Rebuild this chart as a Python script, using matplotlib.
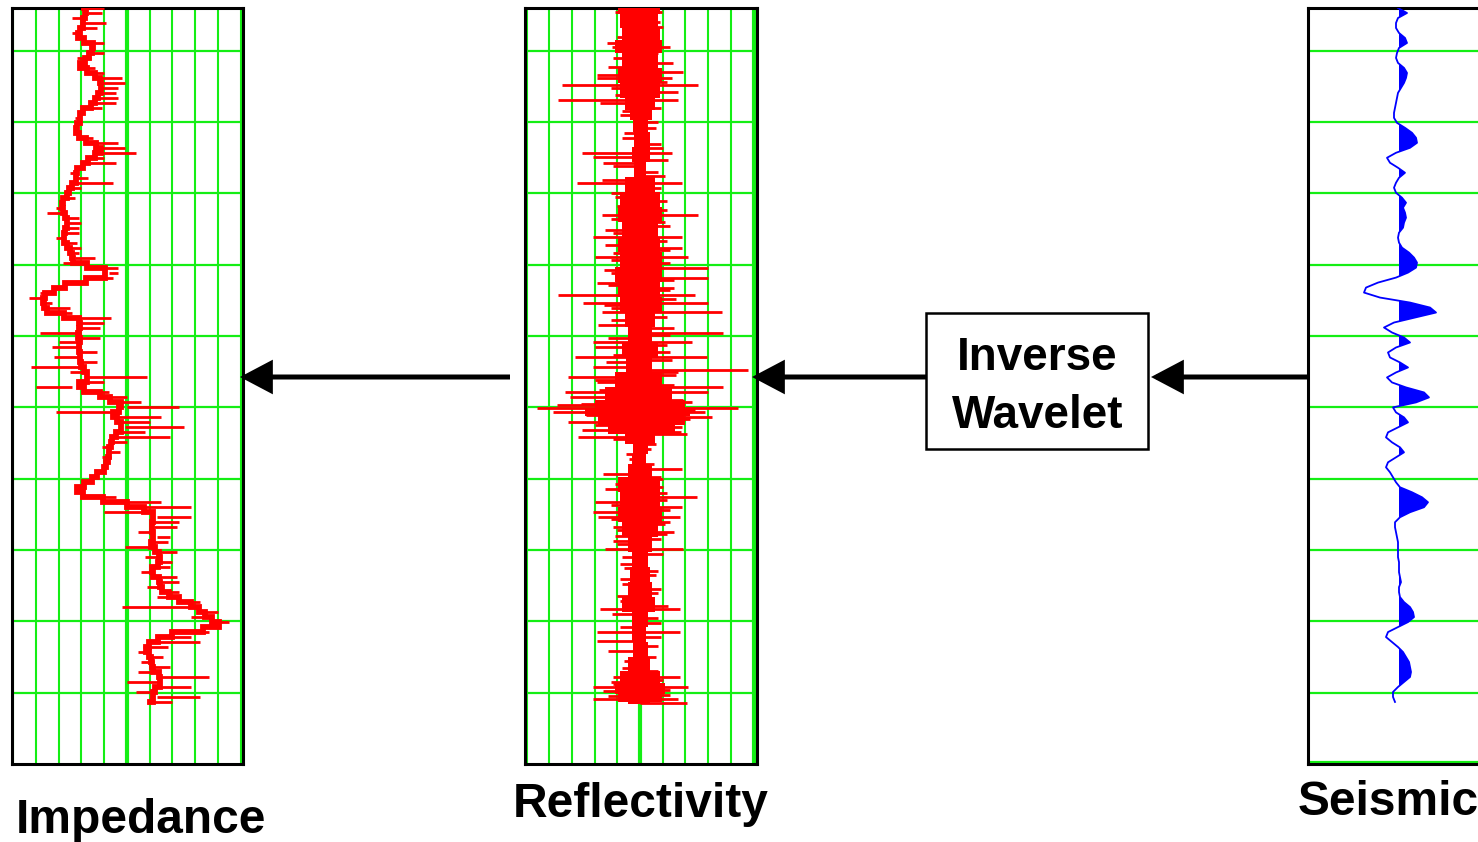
import numpy as np
import matplotlib
matplotlib.use("Agg")
import matplotlib.pyplot as plt
from matplotlib.patches import FancyArrowPatch, Rectangle, ArrowStyle

plt.rcParams['font.family'] = ['Liberation Sans', 'DejaVu Sans']

# ---------------- data ----------------
# two-way time samples (ms), 7 ms interval
time_ms = np.arange(140) * 7

# acoustic impedance log: blocky trend (grid units 0..10)
impedance = [
    3.1, 3.3, 3.0, 3.1, 3.0, 2.9, 2.8, 3.4, 3.6, 3.3,
    3.4, 2.9, 3.0, 3.5, 3.7, 3.9, 3.8, 3.9, 3.6, 3.6,
    3.2, 2.9, 3.0, 2.9, 2.7, 2.8, 3.0, 3.4, 3.9, 3.8,
    3.4, 3.2, 2.9, 2.7, 2.8, 2.7, 2.5, 2.4, 2.3, 2.1,
    2.2, 2.2, 2.4, 2.3, 2.4, 2.2, 2.3, 2.2, 2.5, 2.5,
    2.7, 2.6, 3.9, 4.2, 3.9, 2.5, 2.1, 1.5, 1.3, 1.3,
    1.4, 1.6, 2.9, 2.9, 3.0, 2.8, 2.9, 3.0, 2.8, 3.0,
    2.9, 3.0, 3.0, 3.2, 3.3, 3.2, 2.6, 3.6, 4.0, 4.5,
    5.0, 4.3, 4.5, 4.6, 4.9, 4.6, 4.4, 4.3, 4.3, 4.1,
    4.3, 4.0, 4.2, 3.8, 3.6, 3.3, 2.9, 2.7, 3.4, 4.5,
    5.5, 6.0, 6.3, 6.0, 6.2, 6.0, 6.3, 6.0, 6.1, 6.4,
    6.4, 6.5, 6.2, 6.0, 6.3, 6.5, 6.4, 6.7, 7.0, 7.6,
    8.0, 8.3, 8.6, 8.9, 9.2, 7.5, 6.5, 6.2, 5.7, 6.0,
    5.9, 6.2, 6.0, 6.3, 6.5, 6.4, 6.5, 6.0, 6.3, 6.0,
]
# impedance spikes: sample index and spike value
imp_spike_idx = [1, 3, 5, 7, 13, 15, 17, 19, 28, 29, 30, 35, 41, 44, 48, 50, 53, 57,
                 58, 60, 62, 64, 65, 68, 69, 70, 72, 74, 76, 79, 80, 81, 83, 84, 86,
                 100, 101, 102, 104, 106, 108, 111, 115, 119, 120, 127, 133, 134, 135,
                 136, 137, 138,
                 0, 2, 4, 9, 10, 12, 14, 16, 18, 20, 22, 26, 27, 31, 33, 34, 36, 38,
                 40, 42, 43, 45, 46, 47, 49, 51, 52, 54, 55, 59, 61, 63, 66, 67, 71,
                 73, 75, 77, 78, 82, 85, 87, 88, 89, 90, 98, 99, 103, 105, 107, 109,
                 110, 112, 113, 114, 116, 117, 118, 121, 122, 123, 125, 126, 128, 129,
                 130, 131, 132, 139]
imp_spike_val = [3.9, 4.1, 2.6, 4.0, 4.0, 4.9, 4.5, 4.5, 4.9, 5.4, 4.0, 4.4, 1.5, 2.9,
                 3.0, 3.6, 4.6, 1.2, 0.7, 2.5, 4.3, 3.8, 1.2, 1.7, 3.7, 1.8, 0.8, 5.9,
                 1.0, 5.6, 7.3, 1.9, 6.0, 7.5, 6.9, 7.8, 4.0, 7.8, 7.2, 6.9, 4.9, 7.0,
                 7.3, 8.2, 4.8, 8.2, 5.5, 8.6, 5.0, 7.8, 5.4, 8.2,
                 4.0, 2.6, 3.7, 4.0, 2.8, 3.6, 4.8, 4.6, 4.6, 3.9, 2.7, 3.5, 4.6, 4.5,
                 2.5, 3.3, 3.0, 2.7, 1.9, 2.9, 3.0, 2.9, 1.9, 2.8, 2.9, 2.2, 4.6, 4.4,
                 2.8, 1.7, 2.6, 4.0, 3.8, 2.0, 3.7, 2.5, 4.0, 4.2, 5.0, 6.5, 5.8, 5.0,
                 3.9, 4.7, 3.9, 4.5, 6.5, 7.3, 5.5, 6.8, 7.2, 5.8, 6.9, 5.6, 7.2, 5.9,
                 7.3, 6.3, 9.0, 7.8, 9.5, 8.6, 7.8, 6.8, 5.5, 6.6, 5.6, 6.9, 7.0]

# reflectivity: dense core envelope (time, left, right)
core_t = [0, 17, 38, 52, 73, 94, 115, 136, 150, 164, 185, 206, 227, 248, 269,
          290, 311, 332, 353, 374, 395, 416, 437, 458, 479, 500, 521, 542, 556,
          566, 577, 591, 605, 619, 633, 647, 668, 689, 710, 731, 752, 773, 794,
          815, 836, 857, 878, 899, 920, 938, 955, 969, 976]
core_left = [-0.97, -0.88, -0.79, -1.10, -0.79, -0.97, -0.88, -0.66, -0.44, -0.31,
             -0.26, -0.35, -0.26, -0.66, -0.88, -0.97, -0.79, -0.97, -0.88, -1.10,
             -0.97, -0.88, -0.66, -0.53, -0.79, -0.62, -1.10, -1.54, -1.98, -2.42,
             -1.85, -1.41, -0.66, -0.31, -0.35, -0.53, -0.97, -0.88, -0.97, -0.79,
             -0.53, -0.35, -0.44, -0.53, -0.79, -0.35, -0.35, -0.31, -0.53, -0.88,
             -1.10, -0.97, -0.53]
core_right = [0.88, 0.79, 0.88, 0.97, 0.79, 0.97, 0.88, 0.66, 0.53, 0.35,
              0.44, 0.44, 0.26, 0.66, 0.88, 0.97, 0.79, 0.88, 0.97, 0.97,
              0.88, 0.97, 0.66, 0.53, 0.79, 0.53, 0.97, 1.41, 1.98, 2.20,
              1.98, 1.54, 0.66, 0.35, 0.26, 0.53, 0.88, 0.88, 0.97, 0.79,
              0.53, 0.35, 0.44, 0.53, 0.66, 0.35, 0.26, 0.35, 0.44, 0.88,
              1.10, 0.97, 0.44]

# reflectivity: individual reflection spikes (time, coefficient)
spike_t = [6, 6, 20, 34, 34, 49, 55, 55, 63, 77, 83, 90, 94, 98, 98, 108, 108, 118,
           129, 129, 133, 150, 160, 175, 190, 203, 203, 209, 213, 217, 230, 241, 245,
           245, 260, 270, 278, 290, 290, 300, 311, 321, 321, 332, 336, 343, 349, 349,
           357, 364, 371, 378, 385, 392, 402, 402, 413, 413, 420, 426, 426, 433, 444,
           449, 455, 462, 468, 468, 476, 483, 490, 490, 497, 503, 507, 511, 518, 525,
           528, 532, 539, 539, 545, 552, 557, 561, 561, 567, 567, 573, 580, 587, 591,
           598, 602, 612, 626, 640, 647, 654, 661, 668, 675, 680, 686, 693, 700, 707,
           713, 714, 721, 728, 735, 741, 748, 759, 759, 766, 780, 790, 800, 815, 825,
           839, 843, 843, 850, 862, 875, 875, 888, 895, 902, 910, 925, 938, 938, 945,
           952, 952, 958, 963, 969, 969, 974,
           13, 27, 41, 70, 104, 112, 122, 140, 145, 168, 182, 196, 222, 236, 252, 265,
           283, 296, 305, 316, 327, 340, 353, 368, 381, 388, 396, 408, 416, 438, 459,
           472, 486, 494, 515, 521, 535, 549, 555, 563, 570, 576, 584, 594, 605, 619,
           633, 658, 672, 690, 697, 704, 717, 724, 732, 738, 745, 752, 770, 785, 795,
           808, 820, 832, 855, 868, 882, 915, 930, 942, 948, 956, 965]
spike_r = [-1.10, 0.97, 0.88, -0.79, 0.84, -1.45, 1.32, -1.23, 0.79, 1.45, -1.41, 1.89,
           -1.89, -1.89, 1.41, -3.44, 2.56, 1.67, -3.61, 1.67, -1.76, -0.90, 0.80, -0.70,
           0.90, -2.56, 1.41, -2.07, 1.23, -1.63, 0.80, -1.67, -2.78, 1.85, -1.30, 1.20,
           -1.00, -1.67, 2.56, 1.10, -1.54, -2.07, 1.85, -1.54, 1.85, -1.20, -1.98, 2.11,
           1.30, 3.00, -1.30, 3.00, -1.89, 1.50, -3.61, 2.42, -2.51, 3.00, -1.30, 3.61,
           -1.67, 1.20, -1.85, 1.50, 3.66, -1.40, -2.07, 2.29, -1.98, 1.30, -2.86, 2.95,
           -1.50, -2.07, 4.76, 1.67, -3.17, -1.89, 1.50, 3.66, -3.30, 3.00, -3.08, 2.29,
           -3.66, -4.54, 4.32, -3.83, 2.86, 3.17, -3.17, 1.85, -2.56, 2.07, -2.73, 0.70,
           -0.60, 0.60, 1.85, -1.63, 1.00, -1.10, -1.54, 1.20, 2.51, -1.98, 1.85, -2.07,
           1.76, -1.85, 1.30, -1.20, 1.50, -1.10, -1.19, -1.54, 1.89, 1.00, -0.90, 0.80,
           -0.90, 0.90, -1.00, 1.23, -1.76, 1.76, -1.23, 0.90, -1.89, 1.76, -1.89, 0.80,
           -1.41, 0.70, -0.80, -1.19, 1.76, -1.30, -2.07, 2.11, -1.63, 1.30, -2.07, 1.67,
           2.07,
           -0.90, 1.00, -1.00, -1.20, 1.20, -1.30, -1.10, 0.90, -0.80, 0.70, -0.80, 1.00,
           -1.20, 1.10, 0.90, -1.10, 1.20, -1.30, 1.30, -1.20, 1.20, 1.30, -1.30, -1.60,
           1.50, -1.40, 1.30, 1.60, -1.60, -1.30, 1.30, 1.20, -1.20, 1.40, 1.60, -2.00,
           -1.80, 1.90, -2.60, 2.40, -2.40, 2.20, -2.00, 1.80, -1.20, 0.50, -0.50, 0.90,
           1.00, 1.20, -1.30, 1.30, -1.30, 1.10, -1.00, 1.20, 0.90, -1.00, -0.80, -0.70,
           0.70, -0.80, 0.80, -0.90, 0.80, -0.90, 0.90, -0.70, 0.80, 1.00, -1.20, 1.30,
           -1.40]

# seismic trace amplitude (arbitrary units)
seismic = np.array([
    -1, 8, -1, -3, -3, 0, 6, 8, 0, -2,
    -3, -1, 5, 8, 7, 5, 2, -1, -2, -3,
    -4, -5, -5, -2, 6, 13, 17, 18, 11, -3,
    -12, -9, -1, 6, 0, -3, -5, -3, 3, 7,
    4, 6, 7, 5, 4, 0, -1, 0, 3, 10,
    15, 18, 17, 9, -3, -21, -33, -35, -19, 11,
    31, 37, 16, -5, -15, -7, 5, 11, -3, -11,
    -9, 1, 9, -3, -12, -7, 7, 25, 30, 17,
    -6, -3, 5, 9, -1, -11, -13, -7, 1, 5,
    -3, -11, -13, -9, -6, -3, 1, 13, 23, 29,
    25, 11, 1, -4, -4, -3, -2, -1, -1, -1,
    -1, 0, 0, 0, 1, 2, 0, 0, 1, 5,
    11, 14, 15, 9, -1, -11, -13, -7, -1, 4,
    7, 10, 11, 12, 11, 5, -1, -6, -6, -4,
], dtype=float)

time_grid = [60, 160, 260, 360, 460, 560, 660, 760, 860, 960]

titles = ["Impedance", "Reflectivity", "Seismic"]
box_lines = ["Inverse", "Wavelet"]

# ---------------- figure ----------------
W, H = 1478, 842
fig = plt.figure(figsize=(W / 100, H / 100), dpi=100)
fig.patch.set_facecolor("white")


def fx(px):
    return px / W


def fy(py):
    return 1 - py / H


GREEN = "#14ee14"
TOP, BOT = 8, 764


def make_ax(left, right):
    ax = fig.add_axes([fx(left), fy(BOT), (right - left) / W, (BOT - TOP) / H])
    ax.set_ylim(1060, 0)
    ax.set_xticks([])
    ax.set_yticks([])
    for s in ax.spines.values():
        s.set_linewidth(2.2)
        s.set_color("black")
    return ax


# Impedance panel
ax1 = make_ax(12, 243)
ax1.set_xlim(-0.05, 10.1)
for v in range(0, 11):
    ax1.axvline(v, color=GREEN, lw=3 if v == 5 else 1.5, zorder=1)
for t in time_grid:
    ax1.axhline(t, color=GREEN, lw=1.6, zorder=1)
ax1.plot(impedance, time_ms, drawstyle="steps-mid", color="red", lw=4.2,
         solid_joinstyle="miter", zorder=3)
imp_arr = np.asarray(impedance)
ax1.hlines(time_ms[imp_spike_idx], imp_arr[imp_spike_idx], imp_spike_val,
           color="red", lw=2.0, zorder=3)

# Reflectivity panel
ax2 = make_ax(525, 757)
ax2.set_xlim(-5.07, 5.15)
for v in range(-5, 6):
    ax2.axvline(v, color=GREEN, lw=3 if v in (0, 5) else 1.5, zorder=1)
for t in time_grid:
    ax2.axhline(t, color=GREEN, lw=1.6, zorder=1)
ax2.fill_betweenx(core_t, core_left, core_right, step="mid", color="red", lw=0, zorder=3)
ax2.hlines(spike_t, 0, spike_r, color="red", lw=2.0, zorder=3)

# Seismic panel (extends beyond right edge of figure)
ax3 = make_ax(1308, 1560)
ax3.set_xlim(-91, 161)
for t in time_grid + [1057]:
    ax3.axhline(t, color=GREEN, lw=1.6, zorder=1)
ax3.fill_betweenx(time_ms, 0, seismic, where=seismic > 0, interpolate=True,
                  color="blue", lw=0, zorder=3)
ax3.plot(seismic, time_ms, color="blue", lw=1.3, zorder=4)

# Titles
fig.text(fx(141), fy(833), titles[0], ha="center", va="baseline",
         fontsize=34.5, fontweight="bold")
fig.text(fx(641), fy(817), titles[1], ha="center", va="baseline",
         fontsize=34.5, fontweight="bold")
fig.text(fx(1298), fy(815), titles[2], ha="left", va="baseline",
         fontsize=34.5, fontweight="bold")

# Inverse wavelet box
rect = Rectangle((fx(926), fy(449)), 222 / W, 136 / H, transform=fig.transFigure,
                 facecolor="white", edgecolor="black", lw=1.8, zorder=5)
fig.add_artist(rect)
fig.text(fx(1037), fy(370), box_lines[0], ha="center", va="baseline",
         fontsize=33, fontweight="bold", zorder=6)
fig.text(fx(1038), fy(428), box_lines[1], ha="center", va="baseline",
         fontsize=33, fontweight="bold", zorder=6)

# Arrows
AY = 377
style = ArrowStyle("-|>", head_length=18, head_width=9.5)
for x0, x1 in [(1308, 1151), (926, 752), (510, 240)]:
    arr = FancyArrowPatch((fx(x0), fy(AY)), (fx(x1), fy(AY)), transform=fig.transFigure,
                          arrowstyle=style, lw=3.6, color="black",
                          shrinkA=0, shrinkB=0, mutation_scale=1, zorder=7,
                          joinstyle="miter", capstyle="butt")
    fig.add_artist(arr)

fig.savefig("out.png", dpi=100, facecolor="white")
